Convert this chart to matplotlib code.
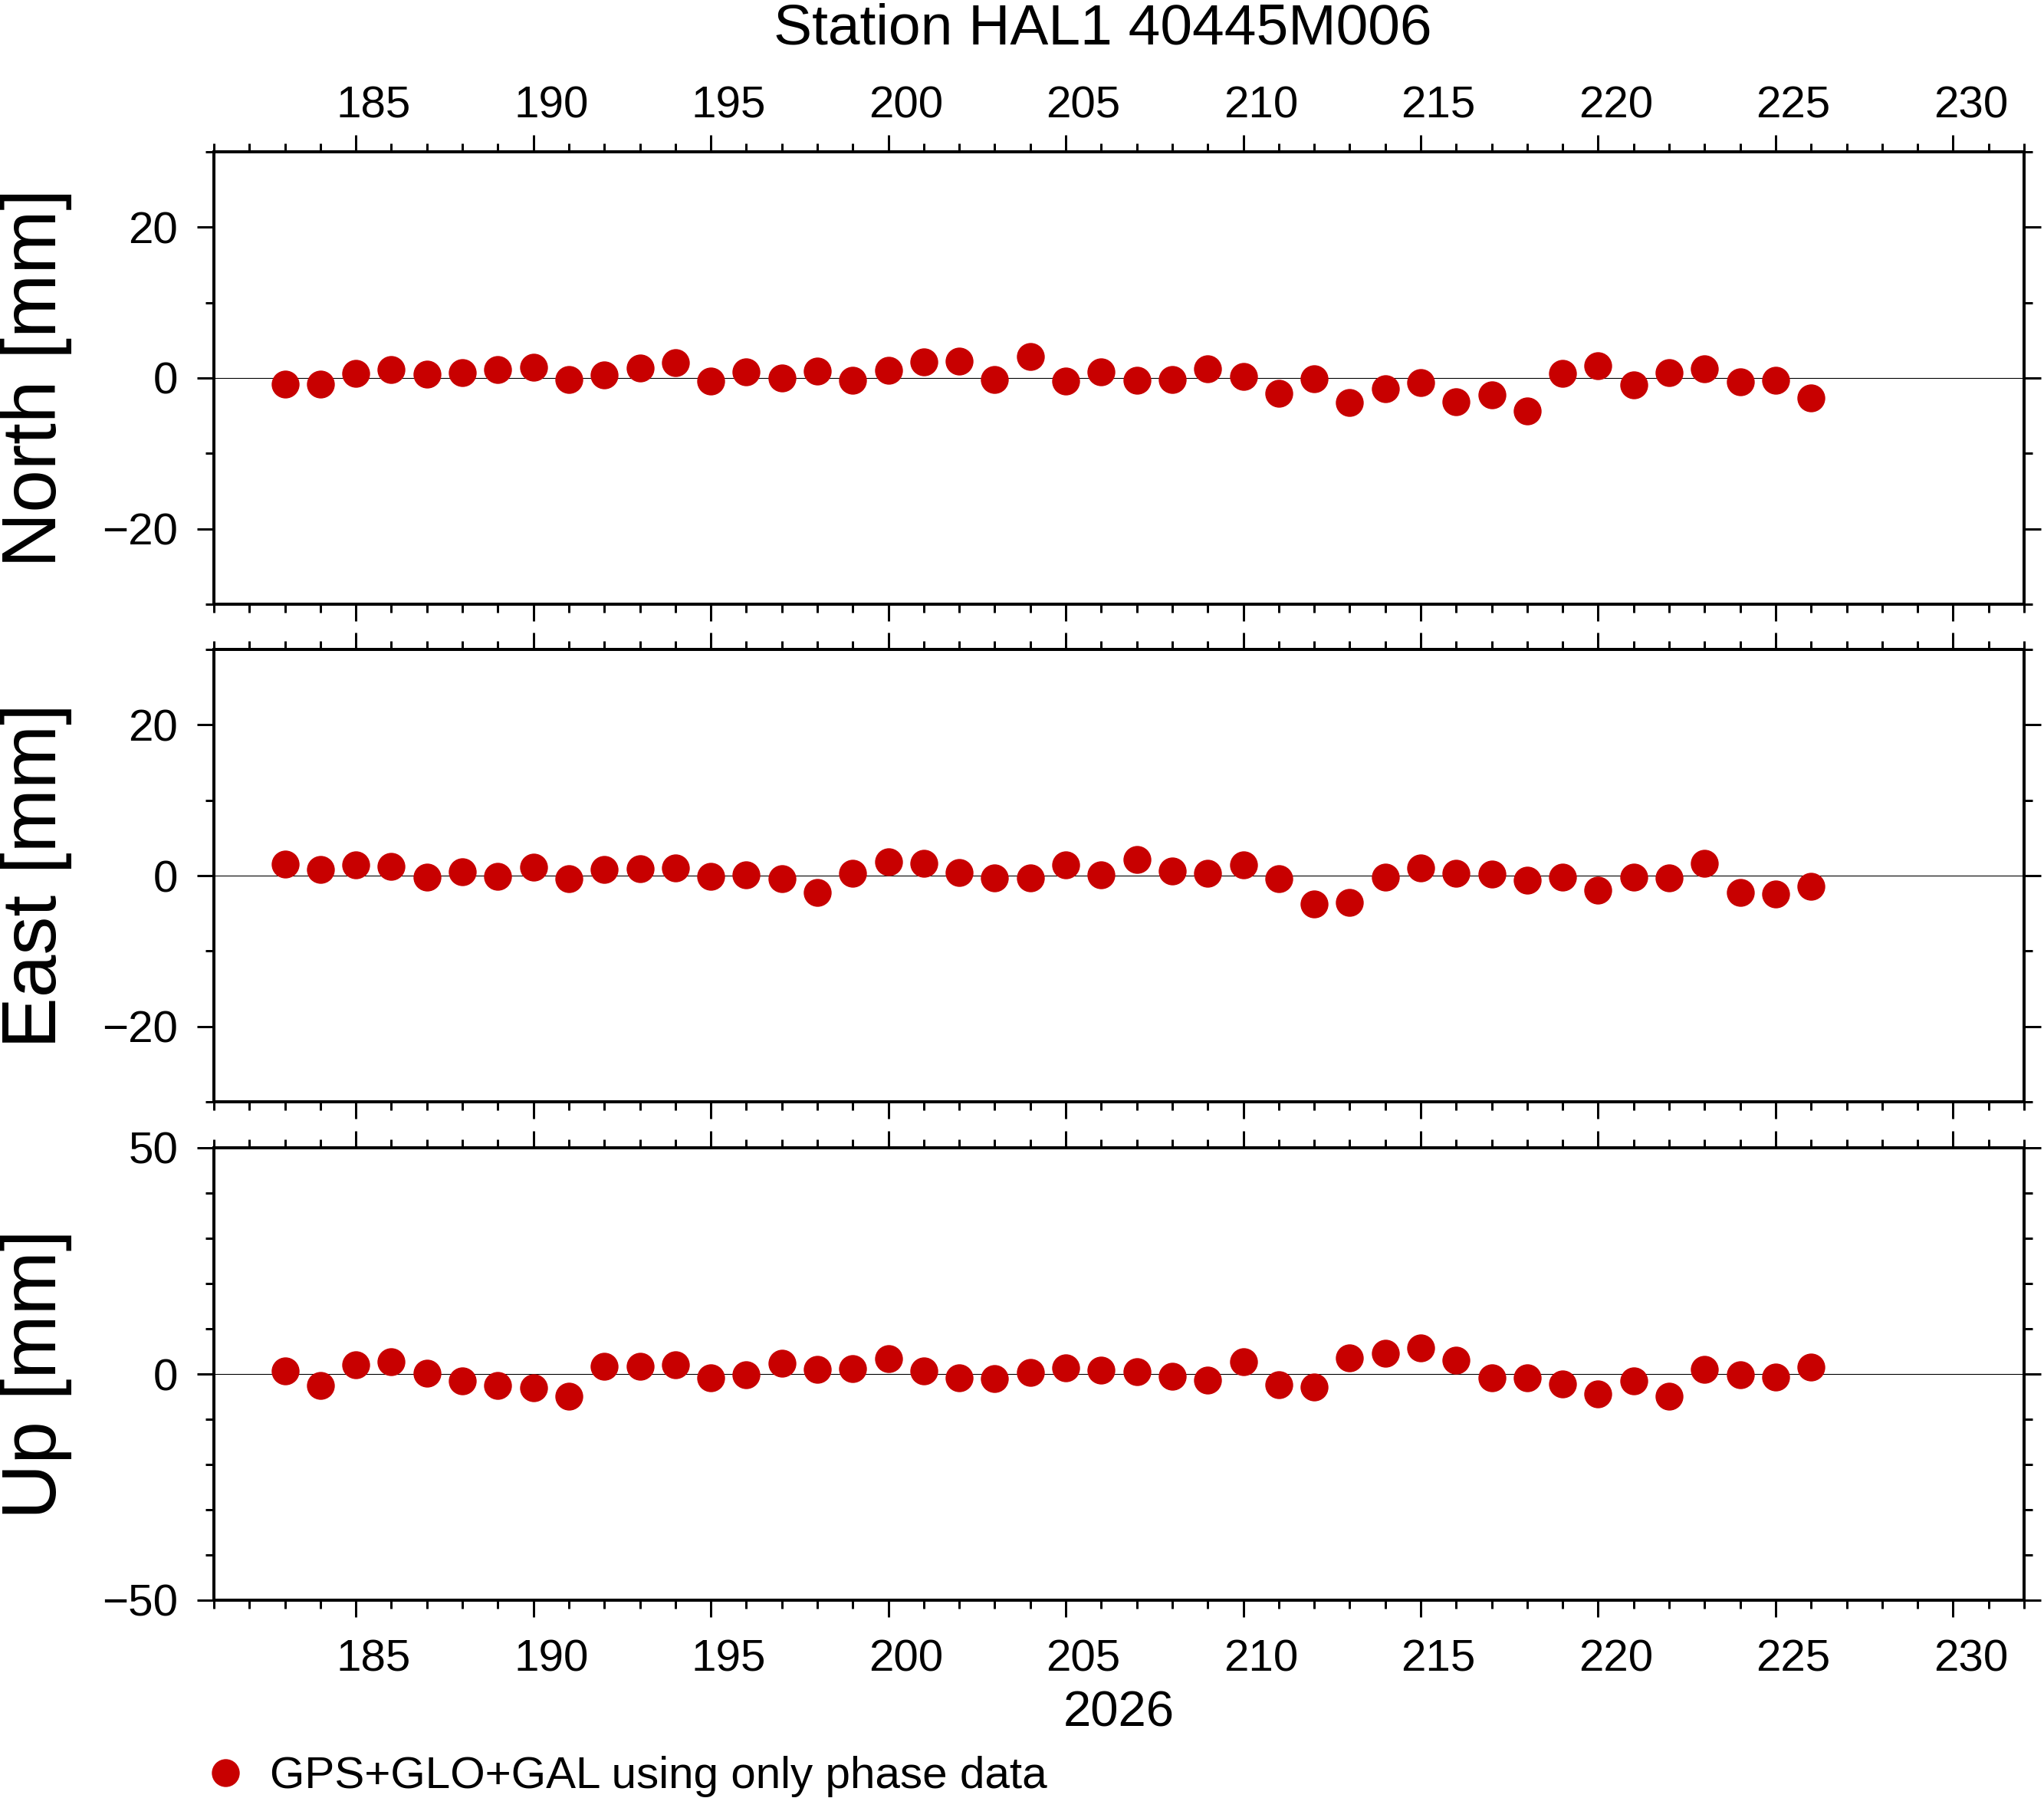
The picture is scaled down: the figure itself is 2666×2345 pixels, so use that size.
import matplotlib
matplotlib.use("Agg")
import matplotlib.pyplot as plt
from matplotlib.ticker import MultipleLocator, FixedLocator
from matplotlib.transforms import ScaledTranslation

plt.rcParams['font.family'] = ['Liberation Sans', 'DejaVu Sans']

# day of year 2026
doy = [183, 184, 185, 186, 187, 188, 189, 190, 191, 192, 193, 194, 195, 196, 197,
       198, 199, 200, 201, 202, 203, 204, 205, 206, 207, 208, 209, 210, 211, 212,
       213, 214, 215, 216, 217, 218, 219, 220, 221, 222, 223, 224, 225, 226]

north = [-0.8, -0.8, 0.6, 1.1, 0.5, 0.7, 1.1, 1.4, -0.2, 0.4, 1.3, 2.0, -0.4, 0.8, 0.0,
         0.9, -0.3, 1.0, 2.1, 2.2, -0.2, 2.8, -0.4, 0.8, -0.3, -0.2, 1.2, 0.2, -2.0, -0.1,
         -3.3, -1.4, -0.6, -3.2, -2.2, -4.4, 0.6, 1.6, -0.9, 0.7, 1.2, -0.5, -0.3, -2.6]

east = [1.5, 0.8, 1.4, 1.2, -0.2, 0.5, -0.1, 1.1, -0.4, 0.8, 0.9, 1.0, -0.1, 0.1, -0.4,
        -2.2, 0.3, 1.8, 1.6, 0.4, -0.3, -0.3, 1.4, 0.1, 2.1, 0.6, 0.3, 1.4, -0.4, -3.8,
        -3.6, -0.2, 1.0, 0.3, 0.2, -0.6, -0.2, -1.9, -0.2, -0.3, 1.6, -2.2, -2.4, -1.4]

up = [0.7, -2.5, 2.1, 2.7, 0.2, -1.5, -2.5, -3.0, -4.9, 1.7, 1.7, 2.1, -0.8, -0.2, 2.4,
      1.0, 1.2, 3.4, 0.7, -0.8, -1.0, 0.3, 1.4, 0.8, 0.5, -0.5, -1.3, 2.7, -2.4, -2.9,
      3.6, 4.6, 5.8, 3.0, -0.8, -0.8, -2.2, -4.4, -1.5, -4.9, 1.0, -0.2, -0.7, 1.5]

day_ticks = [185, 190, 195, 200, 205, 210, 215, 220, 225, 230]
panel_names = ["North [mm]", "East [mm]", "Up [mm]"]
panel_data = [north, east, up]
panel_lim = [30, 30, 50]
panel_major = [[-20, 0, 20], [-20, 0, 20], [-50, 0, 50]]

title = "Station HAL1 40445M006"
year_label = "2026"
legend_label = "GPS+GLO+GAL using only phase data"
dot_color = "#c80000"

W, H = 2666, 2345
fig = plt.figure(figsize=(W / 200, H / 200), dpi=200)

left, right = 279 / W, 2640 / W
tops = [198, 847, 1497]
ph = 590

axes = []
for i in range(3):
    bottom = 1 - (tops[i] + ph) / H
    ax = fig.add_axes([left, bottom, right - left, ph / H])
    axes.append(ax)
    ax.axhline(0, color="black", lw=0.4, zorder=1)
    line, = ax.plot(doy, panel_data[i], "o", ms=13.1, color=dot_color, mew=0,
                    zorder=3, label=legend_label)
    ax.set_xlim(181, 232)
    ax.set_ylim(-panel_lim[i], panel_lim[i])
    ax.xaxis.set_major_locator(FixedLocator(day_ticks))
    ax.xaxis.set_minor_locator(MultipleLocator(1))
    ax.yaxis.set_major_locator(FixedLocator(panel_major[i]))
    ax.yaxis.set_minor_locator(MultipleLocator(10))
    for sp in ax.spines.values():
        sp.set_linewidth(1.44)
    ax.tick_params(which="both", direction="out", top=True, right=True,
                   bottom=True, left=True, width=1.08, labelsize=21)
    ax.tick_params(which="major", length=7.8)
    ax.tick_params(which="minor", length=3.8)
    ax.tick_params(axis="y", which="major", pad=9)
    ax.tick_params(axis="x", labelbottom=(i == 2), labeltop=(i == 0))
    ax.tick_params(axis="x", which="major", pad=4.0 if i == 0 else 10.5)
    ax.set_ylabel(panel_names[i], fontsize=36)
    ax.yaxis.set_label_coords((94 - 279) / (2640 - 279), 0.5)

    # GMT puts the day annotations in the middle of the day interval
    shift = ScaledTranslation(23.1 / 200, 0, fig.dpi_scale_trans)
    for tick in ax.xaxis.get_major_ticks():
        tick.label1.set_transform(tick.label1.get_transform() + shift)
        tick.label2.set_transform(tick.label2.get_transform() + shift)

fig.text(1438 / W, 1 - 58 / H, title, ha="center", va="baseline", fontsize=27)
fig.text(1459 / W, 1 - 2252 / H, year_label, ha="center", va="baseline", fontsize=23.5)

fig.legend(handles=[line], loc="center left", bbox_to_anchor=(265 / W, 1 - 2317 / H),
           frameon=False, fontsize=21, handlelength=1.0, handletextpad=0.5,
           borderpad=0, borderaxespad=0)

fig.savefig("out.png", dpi=200)
